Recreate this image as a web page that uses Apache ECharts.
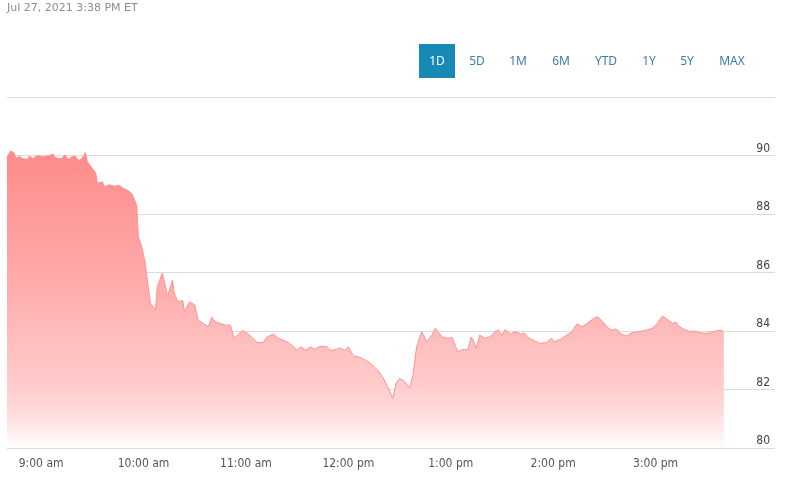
<!DOCTYPE html>
<html>
<head>
<meta charset="utf-8">
<script src="https://cdn.jsdelivr.net/npm/echarts@6/dist/echarts.min.js"></script>
<style>html,body{margin:0;padding:0;background:#fff}#c{width:789px;height:480px}</style>
</head>
<body>
<div id="c"></div>
<script>
// Time of each sample, minutes since midnight (ET)
var timesMin = [520,522,524,525,526,527,529,530,532,533,535,536,538,541,542,545,547,548,550,552,554,556,558,560,562,564,566,567,569,570,572,573,576,577,580,583,584,586,588,591,593,594,596,597,599,601,603,604,607,608,611,613,614,617,618,620,621,623,624,627,630,632,635,638,640,642,645,648,651,653,655,658,661,664,667,670,672,676,679,682,685,688,690,692,695,698,700,703,707,710,713,715,718,720,723,727,730,733,737,740,743,746,748,750,753,756,758,760,763,766,769,771,775,778,781,784,787,790,792,794,795,797,800,803,806,808,810,812,815,818,821,823,826,829,832,836,839,841,844,848,851,854,857,860,863,866,869,872,874,877,880,883,886,889,892,895,898,901,904,907,910,912,914,917,920,923,926,929,932,935,938,940];
// Price at each sample
var prices = [89.93,90.15,90.10,89.97,89.90,89.98,89.90,89.96,89.87,89.98,89.90,89.96,90.00,89.96,89.98,90.00,90.05,89.94,89.90,89.90,90.02,89.87,89.96,89.98,89.83,89.90,90.10,89.80,89.64,89.60,89.40,89.06,89.10,88.93,89.00,88.95,88.93,88.98,88.88,88.80,88.70,88.60,88.30,87.22,86.88,86.32,85.40,84.96,84.72,85.50,85.98,85.50,85.17,85.74,85.30,85.00,85.00,85.04,84.66,85.00,84.89,84.38,84.26,84.15,84.47,84.32,84.26,84.20,84.20,83.75,83.86,84.01,83.92,83.75,83.60,83.60,83.78,83.90,83.75,83.69,83.60,83.46,83.33,83.46,83.35,83.46,83.38,83.46,83.48,83.33,83.38,83.42,83.33,83.46,83.15,83.10,83.00,82.90,82.67,82.44,82.10,81.70,82.21,82.38,82.27,82.04,82.55,83.46,83.98,83.63,83.86,84.09,83.80,83.75,83.78,83.29,83.37,83.35,83.80,83.58,83.40,83.86,83.75,83.80,83.98,84.03,83.86,84.05,83.90,83.98,83.89,83.94,83.75,83.67,83.58,83.60,83.75,83.63,83.71,83.86,83.98,84.24,84.15,84.26,84.40,84.49,84.32,84.12,84.03,84.07,83.89,83.83,83.94,83.97,84.00,84.03,84.09,84.26,84.51,84.40,84.26,84.30,84.15,84.05,83.98,84.00,83.94,83.92,83.94,84.00,84.03,83.98];
var yTicks = [80,82,84,86,88,90];
var xTickLabels = {540:'9:00 am',600:'10:00 am',660:'11:00 am',720:'12:00 pm',780:'1:00 pm',840:'2:00 pm',900:'3:00 pm'};
var rangeButtons = ['1D','5D','1M','6M','YTD','1Y','5Y','MAX'];
var stampText = 'Jul 27, 2021 3:38 PM ET';

var chart = echarts.init(document.getElementById('c'), null, {renderer:'canvas'});
var seriesData = timesMin.map(function(t,i){return [t, prices[i]];});
var btnX = [437,477,518,561,606,649,687,732];
var graphics = [{type:'rect', shape:{x:419,y:44,width:36,height:34}, style:{fill:'#168ab5'}}];
rangeButtons.forEach(function(b,i){
  graphics.push({type:'text', x:btnX[i], y:62, style:{text:b, fill: i===0?'#ffffff':'#3d7ea6', font:'12px "Noto Sans"', textAlign:'center', textVerticalAlign:'middle'}});
});
var lblFont = '"DejaVu Sans Condensed","Liberation Sans Narrow","Liberation Sans"';
chart.setOption({
  animation:false,
  title:{text:stampText, left:7, top:3, padding:0, textStyle:{fontSize:11, fontWeight:'normal', color:'#8d8d8d', fontFamily:'DejaVu Sans'}},
  graphic: graphics,
  grid:{left:7, right:14, top:97, bottom:32},
  xAxis:{type:'value', min:520, max:970, interval:20,
    axisLine:{show:false}, axisTick:{show:false}, splitLine:{show:false},
    axisLabel:{formatter:function(v){return xTickLabels[v] || '';}, color:'#555', fontSize:12, margin:10, fontFamily:lblFont, showMinLabel:false, showMaxLabel:false}},
  yAxis:{type:'value', position:'right', min:80, max:92, interval:2,
    axisLine:{show:false}, axisTick:{show:false},
    splitLine:{lineStyle:{color:'#dcdcdc', width:1}},
    axisLabel:{inside:true, margin:5, color:'#444', fontSize:12, fontFamily:lblFont, verticalAlign:'bottom', padding:[0,0,1,0],
      formatter:function(v){return yTicks.indexOf(v)>=0 ? String(v) : '';}}},
  series:[{type:'line', data:seriesData, showSymbol:false, smooth:false,
    lineStyle:{width:1, color:'#ff9393'},
    areaStyle:{opacity:1, color:new echarts.graphic.LinearGradient(0,0,0,1,[
      {offset:0,color:'#ff8a8a'},{offset:0.5,color:'#ffb0b0'},{offset:0.65,color:'#ffbfbf'},
      {offset:0.8,color:'#ffcdcd'},{offset:0.9,color:'#ffe0e0'},{offset:1,color:'#ffffff'}])}}]
});
</script>
</body>
</html>
